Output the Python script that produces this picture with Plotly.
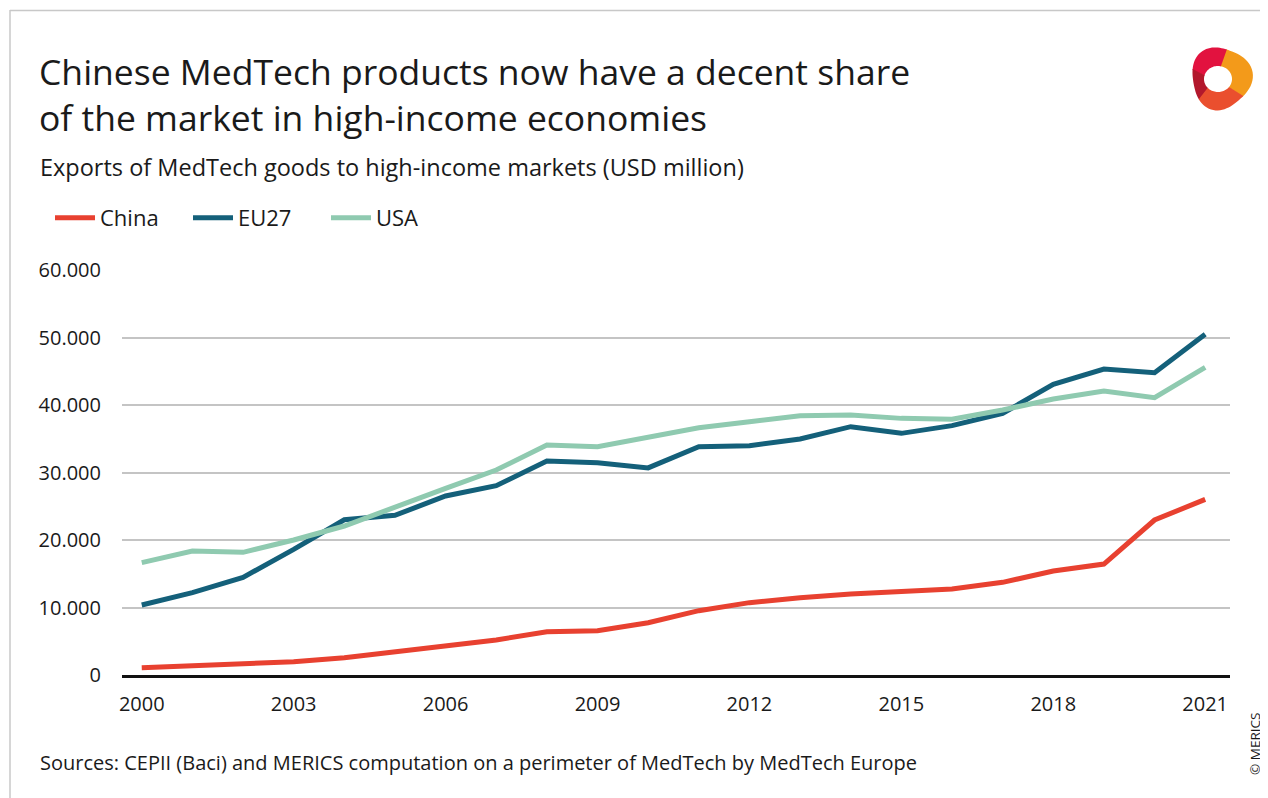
import math
import plotly.graph_objects as go

years = list(range(2000, 2022))
china = [1090, 1330, 1630, 1980, 2550, 3400, 4300, 5190, 6420, 6570, 7750,
         9530, 10720, 11460, 12000, 12440, 12740, 13730, 15400, 16440, 22960, 26020]
eu27 = [10370, 12200, 14470, 18600, 23000, 23650, 26520, 28050, 31700, 31460, 30680,
        33830, 33980, 34960, 36790, 35800, 36940, 38770, 43060, 45330, 44790, 50470]
usa = [16640, 18370, 18170, 20000, 22070, 24940, 27650, 30370, 34070, 33830, 35260,
       36640, 37530, 38420, 38520, 38020, 37880, 39260, 40890, 42070, 41090, 45580]
tick_years = [2000, 2003, 2006, 2009, 2012, 2015, 2018, 2021]
y_ticks = [0, 10000, 20000, 30000, 40000, 50000, 60000]

OFF = 8  # default body margin of the html page
W, H = 1268 - OFF, 798 - OFF
L, R, T, B = 122, 1230, 270, 675  # plot area in page pixels
FONT = "Open Sans"
TXT = "#1a1a1a"


def px(x):
    return (x - L) / (R - L)


def py(y):
    return (B - y) / (B - T)


fig = go.Figure()
for name, vals, col in [("China", china, "#e84130"),
                        ("EU27", eu27, "#14607a"),
                        ("USA", usa, "#8fcab0")]:
    fig.add_trace(go.Scatter(x=years, y=vals, name=name, mode="lines",
                             line=dict(color=col, width=5)))

shapes = [
    dict(type="line", xref="paper", yref="paper", x0=px(10), x1=px(1268),
         y0=py(10.5), y1=py(10.5), line=dict(color="#c8c8c8", width=1.5)),
    dict(type="line", xref="paper", yref="paper", x0=px(10), x1=px(10),
         y0=py(10), y1=py(798), line=dict(color="#c8c8c8", width=1.5)),
]


# logo approximation: a ring split into coloured segments
def ring_segment(a0, a1, col):
    cx, cy, rxo, ryo = 1221, 78, 30, 31
    cxi, cyi, rxi, ryi = 1218, 79, 14, 13
    n = 24
    pts = []
    for i in range(n + 1):
        a = math.radians(a0 + (a1 - a0) * i / n)
        k = 1 + 0.07 * math.cos(3 * (a - math.radians(-130)))
        pts.append((cx + rxo * k * math.cos(a), cy + ryo * k * math.sin(a)))
    for i in range(n + 1):
        a = math.radians(a1 - (a1 - a0) * i / n)
        pts.append((cxi + rxi * math.cos(a), cyi + ryi * math.sin(a)))
    path = "M " + " L ".join(f"{px(x):.5f},{py(y):.5f}" for x, y in pts) + " Z"
    return dict(type="path", xref="paper", yref="paper", path=path,
                fillcolor=col, line=dict(width=0), layer="above")


shapes += [
    ring_segment(-80, 40, "#f39a1a"),
    ring_segment(-165, -78, "#e2123f"),
    ring_segment(135, 197, "#b3182c"),
    ring_segment(38, 137, "#ea4f2e"),
]

annotations = [
    dict(text="Chinese MedTech products now have a decent share<br>of the market in high-income economies",
         x=px(37), y=py(94), xref="paper", yref="paper", xanchor="left", yanchor="middle",
         align="left", showarrow=False, font=dict(family=FONT, size=35.5, color=TXT)),
    dict(text="Exports of MedTech goods to high-income markets (USD million)",
         x=px(38), y=py(167), xref="paper", yref="paper", xanchor="left", yanchor="middle",
         showarrow=False, font=dict(family=FONT, size=23.5, color=TXT)),
    dict(text="Sources: CEPII (Baci) and MERICS computation on a perimeter of MedTech by MedTech Europe",
         x=px(38), y=py(762), xref="paper", yref="paper", xanchor="left", yanchor="middle",
         showarrow=False, font=dict(family=FONT, size=20, color=TXT)),
    dict(text="© MERICS", textangle=-90,
         x=px(1255), y=py(744), xref="paper", yref="paper", xanchor="center", yanchor="middle",
         showarrow=False, font=dict(family=FONT, size=13.5, color=TXT)),
]

fig.update_layout(
    width=W, height=H,
    margin=dict(l=L - OFF, r=1268 - R, t=T - OFF, b=798 - B, autoexpand=False),
    paper_bgcolor="white", plot_bgcolor="white",
    separators=",.",
    font=dict(family=FONT, size=20, color=TXT),
    showlegend=True,
    legend=dict(orientation="h", x=px(50), y=py(218), xanchor="left", yanchor="middle",
                font=dict(family=FONT, size=22, color=TXT), itemwidth=40,
                entrywidth=83, bgcolor="rgba(0,0,0,0)", traceorder="normal"),
    xaxis=dict(range=[1999.61, 2021.49], tickmode="array", tickvals=tick_years,
               showgrid=False, zeroline=False, showline=True, linecolor="#111111",
               linewidth=3, ticks="", tickfont=dict(size=20, color=TXT),
               ticklabelstandoff=9),
    yaxis=dict(range=[0, 60000], tickmode="array", tickvals=y_ticks, tickformat=",d",
               showgrid=True, gridcolor="#c4c4c4", gridwidth=1.5, zeroline=False,
               showline=False, ticks="", tickfont=dict(size=20, color=TXT),
               ticklabelstandoff=20),
    shapes=shapes, annotations=annotations,
)

fig.write_html("out.html")
